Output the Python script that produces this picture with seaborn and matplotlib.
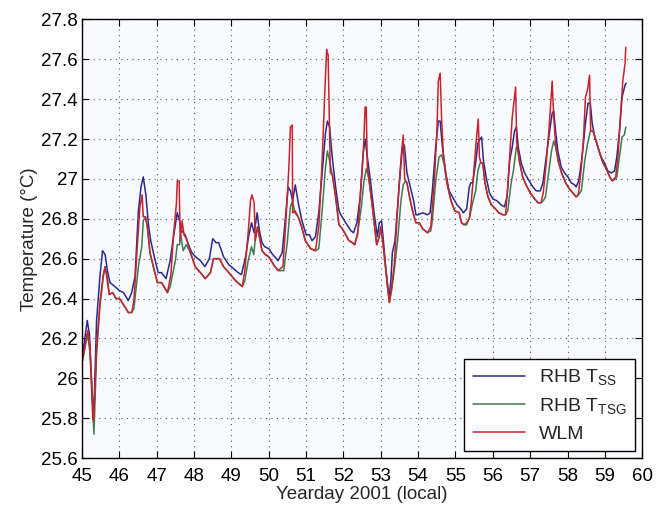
import numpy as np
import pandas as pd
import matplotlib
matplotlib.use('Agg')
import matplotlib.pyplot as plt
import seaborn as sns

# RHB T_SS (blue)
ss_day = [45.02, 45.14, 45.20, 45.31, 45.39, 45.48, 45.55, 45.62, 45.68, 45.75, 45.88, 46.00, 46.11, 46.24,
          46.33, 46.42, 46.51, 46.58, 46.64, 46.71, 46.78, 46.84, 46.96, 47.04, 47.13, 47.25, 47.36, 47.45,
          47.55, 47.61, 47.67, 47.76, 47.85, 47.94, 48.04, 48.17, 48.29, 48.41, 48.50, 48.59, 48.66, 48.79,
          48.93, 49.06, 49.18, 49.27, 49.38, 49.46, 49.54, 49.61, 49.69, 49.75, 49.82, 49.89, 50.00, 50.11,
          50.25, 50.36, 50.45, 50.52, 50.58, 50.64, 50.71, 50.80, 50.89, 51.00, 51.09, 51.16, 51.25, 51.34,
          51.43, 51.52, 51.57, 51.63, 51.70, 51.79, 51.88, 51.93, 52.06, 52.20, 52.27, 52.36, 52.45, 52.53,
          52.58, 52.64, 52.73, 52.82, 52.91, 52.96, 53.02, 53.07, 53.13, 53.20, 53.23, 53.27, 53.31, 53.38,
          53.45, 53.52, 53.58, 53.63, 53.70, 53.79, 53.88, 53.94, 54.00, 54.12, 54.25, 54.32, 54.38, 54.47,
          54.54, 54.59, 54.65, 54.74, 54.83, 54.95, 55.04, 55.14, 55.21, 55.30, 55.37, 55.41, 55.46, 55.54,
          55.60, 55.66, 55.70, 55.75, 55.82, 55.91, 56.00, 56.11, 56.22, 56.31, 56.38, 56.45, 56.52, 56.58,
          56.63, 56.68, 56.76, 56.85, 56.94, 57.07, 57.16, 57.27, 57.34, 57.43, 57.52, 57.59, 57.63, 57.68,
          57.74, 57.83, 57.92, 58.01, 58.10, 58.19, 58.23, 58.30, 58.39, 58.48, 58.55, 58.61, 58.66, 58.73,
          58.81, 58.90, 58.99, 59.08, 59.17, 59.26, 59.32, 59.39, 59.46, 59.54, 59.57]
ss_temp = [26.12, 26.29, 26.22, 25.78, 26.29, 26.51, 26.64, 26.62, 26.54, 26.48, 26.46, 26.44, 26.43, 26.39,
           26.43, 26.51, 26.84, 26.96, 27.01, 26.92, 26.77, 26.69, 26.59, 26.53, 26.53, 26.50, 26.59, 26.71,
           26.83, 26.79, 26.74, 26.72, 26.67, 26.63, 26.61, 26.59, 26.56, 26.60, 26.70, 26.68, 26.68, 26.61,
           26.57, 26.55, 26.53, 26.52, 26.61, 26.71, 26.78, 26.73, 26.83, 26.74, 26.68, 26.66, 26.65, 26.62,
           26.59, 26.63, 26.81, 26.96, 26.94, 26.89, 26.97, 26.87, 26.79, 26.72, 26.72, 26.69, 26.71, 26.83,
           27.03, 27.23, 27.29, 27.26, 27.11, 26.96, 26.84, 26.82, 26.78, 26.74, 26.73, 26.78, 26.91, 27.13,
           27.20, 27.11, 26.98, 26.83, 26.71, 26.78, 26.79, 26.69, 26.56, 26.44, 26.42, 26.49, 26.63, 26.69,
           26.86, 27.03, 27.16, 27.17, 27.03, 26.96, 26.89, 26.82, 26.82, 26.83, 26.82, 26.83, 26.94, 27.16,
           27.29, 27.29, 27.16, 27.03, 26.94, 26.90, 26.87, 26.85, 26.83, 26.85, 26.96, 26.98, 26.98, 27.08,
           27.18, 27.20, 27.21, 27.09, 27.01, 26.93, 26.90, 26.89, 26.87, 26.86, 26.91, 27.09, 27.16, 27.24,
           27.26, 27.16, 27.08, 27.03, 27.00, 26.96, 26.94, 26.94, 26.98, 27.11, 27.24, 27.33, 27.34, 27.24,
           27.14, 27.06, 27.03, 27.01, 26.98, 26.97, 26.96, 26.99, 27.11, 27.28, 27.38, 27.38, 27.28, 27.21,
           27.16, 27.11, 27.08, 27.04, 27.03, 27.04, 27.11, 27.24, 27.41, 27.47, 27.48]

# RHB T_TSG (green)
tsg_day = [45.02, 45.15, 45.22, 45.32, 45.39, 45.48, 45.57, 45.62, 45.68, 45.73, 45.82, 45.91, 46.00, 46.11,
           46.24, 46.33, 46.39, 46.51, 46.60, 46.64, 46.70, 46.75, 46.82, 46.91, 47.02, 47.13, 47.29, 47.36,
           47.50, 47.55, 47.61, 47.64, 47.71, 47.79, 47.88, 48.03, 48.17, 48.30, 48.44, 48.52, 48.68, 48.79,
           48.93, 49.11, 49.29, 49.36, 49.45, 49.54, 49.60, 49.64, 49.70, 49.75, 49.82, 49.91, 50.00, 50.13,
           50.25, 50.40, 50.49, 50.58, 50.64, 50.70, 50.79, 50.88, 50.98, 51.12, 51.25, 51.34, 51.43, 51.52,
           51.57, 51.63, 51.70, 51.79, 51.88, 51.97, 52.06, 52.15, 52.24, 52.30, 52.39, 52.48, 52.55, 52.61,
           52.66, 52.71, 52.80, 52.89, 52.96, 53.00, 53.05, 53.11, 53.18, 53.23, 53.29, 53.36, 53.45, 53.54,
           53.60, 53.66, 53.70, 53.77, 53.85, 53.94, 54.03, 54.12, 54.25, 54.34, 54.38, 54.47, 54.56, 54.63,
           54.70, 54.77, 54.88, 54.98, 55.10, 55.16, 55.23, 55.30, 55.38, 55.46, 55.54, 55.60, 55.66, 55.73,
           55.79, 55.87, 55.96, 56.07, 56.16, 56.27, 56.34, 56.40, 56.49, 56.55, 56.63, 56.68, 56.71, 56.80,
           56.89, 57.00, 57.12, 57.21, 57.29, 57.35, 57.41, 57.50, 57.57, 57.63, 57.68, 57.75, 57.84, 57.95,
           58.05, 58.14, 58.23, 58.29, 58.37, 58.46, 58.54, 58.61, 58.68, 58.77, 58.86, 58.95, 59.04, 59.13,
           59.20, 59.29, 59.32, 59.39, 59.46, 59.52, 59.56]
tsg_temp = [26.10, 26.22, 26.12, 25.72, 26.12, 26.36, 26.51, 26.56, 26.51, 26.42, 26.43, 26.40, 26.40, 26.37,
            26.33, 26.33, 26.35, 26.56, 26.66, 26.79, 26.81, 26.76, 26.63, 26.56, 26.48, 26.48, 26.43, 26.46,
            26.59, 26.67, 26.67, 26.72, 26.64, 26.67, 26.64, 26.56, 26.53, 26.50, 26.53, 26.60, 26.60, 26.56,
            26.53, 26.49, 26.46, 26.49, 26.59, 26.66, 26.62, 26.70, 26.76, 26.71, 26.64, 26.62, 26.61, 26.57,
            26.54, 26.54, 26.67, 26.86, 26.89, 26.83, 26.81, 26.76, 26.69, 26.65, 26.64, 26.65, 26.84, 27.06,
            27.14, 27.09, 27.02, 26.91, 26.77, 26.75, 26.72, 26.69, 26.68, 26.67, 26.74, 26.86, 26.99, 27.05,
            27.02, 26.96, 26.82, 26.67, 26.71, 26.76, 26.69, 26.59, 26.46, 26.38, 26.44, 26.54, 26.69, 26.89,
            26.97, 26.99, 26.98, 26.91, 26.84, 26.78, 26.78, 26.75, 26.73, 26.74, 26.79, 26.99, 27.11, 27.12,
            27.07, 26.98, 26.89, 26.84, 26.83, 26.78, 26.77, 26.77, 26.81, 26.88, 26.94, 27.04, 27.08, 27.08,
            26.98, 26.91, 26.87, 26.85, 26.83, 26.82, 26.82, 26.84, 26.98, 27.04, 27.16, 27.14, 27.09, 27.01,
            26.97, 26.93, 26.90, 26.88, 26.88, 26.89, 26.91, 27.04, 27.14, 27.19, 27.16, 27.09, 27.03, 26.98,
            26.95, 26.93, 26.91, 26.92, 26.94, 27.09, 27.18, 27.24, 27.24, 27.19, 27.13, 27.08, 27.05, 27.01,
            26.99, 27.00, 27.01, 27.11, 27.21, 27.22, 27.26]

# WLM (red)
wlm_day = [45.02, 45.13, 45.16, 45.21, 45.29, 45.31, 45.39, 45.48, 45.57, 45.62, 45.66, 45.73, 45.82, 45.91,
           46.00, 46.11, 46.24, 46.33, 46.39, 46.48, 46.55, 46.61, 46.64, 46.70, 46.75, 46.82, 46.91, 47.02,
           47.13, 47.29, 47.38, 47.45, 47.53, 47.55, 47.60, 47.63, 47.68, 47.73, 47.80, 47.89, 48.03, 48.17,
           48.30, 48.44, 48.52, 48.68, 48.79, 48.93, 49.11, 49.29, 49.36, 49.45, 49.51, 49.55, 49.61, 49.64,
           49.70, 49.75, 49.82, 49.91, 50.00, 50.13, 50.25, 50.38, 50.45, 50.54, 50.58, 50.63, 50.64, 50.70,
           50.79, 50.88, 50.98, 51.12, 51.25, 51.34, 51.43, 51.50, 51.55, 51.59, 51.65, 51.71, 51.79, 51.88,
           51.97, 52.06, 52.15, 52.24, 52.30, 52.38, 52.46, 52.54, 52.58, 52.61, 52.64, 52.71, 52.80, 52.89,
           52.96, 53.00, 53.05, 53.11, 53.18, 53.23, 53.29, 53.36, 53.43, 53.49, 53.55, 53.60, 53.64, 53.70,
           53.77, 53.85, 53.94, 54.03, 54.12, 54.25, 54.34, 54.43, 54.50, 54.54, 54.59, 54.63, 54.68, 54.77,
           54.88, 54.98, 55.10, 55.16, 55.23, 55.30, 55.37, 55.42, 55.48, 55.55, 55.61, 55.64, 55.68, 55.73,
           55.79, 55.87, 55.96, 56.07, 56.16, 56.27, 56.34, 56.40, 56.46, 56.52, 56.58, 56.61, 56.64, 56.71,
           56.80, 56.89, 57.00, 57.12, 57.21, 57.29, 57.35, 57.43, 57.50, 57.55, 57.59, 57.63, 57.68, 57.75,
           57.84, 57.95, 58.05, 58.14, 58.23, 58.29, 58.36, 58.43, 58.48, 58.54, 58.59, 58.62, 58.68, 58.77,
           58.86, 58.95, 59.04, 59.13, 59.20, 59.29, 59.35, 59.41, 59.48, 59.54, 59.56]
wlm_temp = [26.09, 26.22, 26.24, 26.16, 25.80, 25.79, 26.15, 26.38, 26.52, 26.56, 26.51, 26.42, 26.43, 26.40,
            26.40, 26.37, 26.33, 26.33, 26.39, 26.66, 26.86, 26.92, 26.81, 26.81, 26.76, 26.63, 26.56, 26.48,
            26.48, 26.43, 26.52, 26.72, 26.88, 26.99, 26.99, 26.69, 26.79, 26.72, 26.70, 26.64, 26.56, 26.53,
            26.50, 26.53, 26.60, 26.60, 26.56, 26.53, 26.49, 26.46, 26.54, 26.73, 26.89, 26.92, 26.88, 26.69,
            26.76, 26.71, 26.64, 26.62, 26.61, 26.57, 26.54, 26.56, 26.76, 27.06, 27.26, 27.27, 26.83, 26.84,
            26.81, 26.76, 26.69, 26.65, 26.64, 26.76, 27.09, 27.43, 27.65, 27.62, 27.03, 27.02, 26.91, 26.77,
            26.75, 26.72, 26.69, 26.68, 26.67, 26.72, 26.94, 27.16, 27.36, 27.36, 27.06, 26.96, 26.82, 26.67,
            26.71, 26.76, 26.69, 26.59, 26.46, 26.38, 26.46, 26.57, 26.79, 26.97, 27.12, 27.22, 27.00, 26.98,
            26.91, 26.84, 26.78, 26.78, 26.75, 26.73, 26.76, 26.98, 27.22, 27.49, 27.53, 27.29, 27.11, 26.98,
            26.89, 26.84, 26.83, 26.78, 26.77, 26.78, 26.80, 26.88, 27.01, 27.18, 27.30, 27.11, 27.08, 27.08,
            26.98, 26.91, 26.87, 26.85, 26.83, 26.82, 26.82, 26.96, 27.14, 27.31, 27.41, 27.46, 27.18, 27.09,
            27.01, 26.97, 26.93, 26.90, 26.88, 26.88, 26.93, 27.08, 27.24, 27.38, 27.49, 27.31, 27.18, 27.09,
            27.03, 26.98, 26.95, 26.93, 26.91, 26.92, 27.04, 27.21, 27.41, 27.45, 27.52, 27.24, 27.24, 27.19,
            27.13, 27.08, 27.05, 27.01, 26.99, 27.01, 27.11, 27.29, 27.49, 27.58, 27.66]

labels = ['RHB T$_{\\mathrm{SS}}$', 'RHB T$_{\\mathrm{TSG}}$', 'WLM']
colors = ['#2a2a90', '#3e7b52', '#c8222c']

df = pd.concat([
    pd.DataFrame({'day': ss_day, 'temp': ss_temp, 'series': labels[0]}),
    pd.DataFrame({'day': tsg_day, 'temp': tsg_temp, 'series': labels[1]}),
    pd.DataFrame({'day': wlm_day, 'temp': wlm_temp, 'series': labels[2]}),
])

sns.set_style('ticks')
plt.rcParams['font.family'] = ['Liberation Sans', 'DejaVu Sans']
plt.rcParams['mathtext.fontset'] = 'custom'
plt.rcParams['mathtext.rm'] = 'Liberation Sans'
plt.rcParams['mathtext.it'] = 'Liberation Sans:italic'

fig, ax = plt.subplots(figsize=(6.56, 5.09), dpi=100)
fig.subplots_adjust(left=0.125, right=0.979, bottom=0.100, top=0.962)
ax.set_facecolor('#f8fafe')

sns.lineplot(data=df, x='day', y='temp', hue='series', palette=colors,
             estimator=None, sort=False, linewidth=1.1, ax=ax)

ax.set_xlim(45, 60)
ax.set_ylim(25.6, 27.8)
ax.set_xticks(np.arange(45, 61, 1))
ax.set_yticks(np.arange(25.6, 27.81, 0.2))
ax.yaxis.set_major_formatter(matplotlib.ticker.FuncFormatter(lambda v, p: f'{round(v, 1):g}'))
ax.tick_params(direction='in', top=True, right=True, length=5, width=0.8,
               labelsize=13.5, colors='black')
ax.tick_params(axis='x', pad=7)
ax.tick_params(axis='y', pad=3)
ax.grid(True, linestyle=(0, (1, 4)), color='0.35', linewidth=0.8)
for s in ax.spines.values():
    s.set_color('black')
    s.set_linewidth(1.0)

ax.set_xlabel('Yearday 2001 (local)', fontsize=13.5, labelpad=1)
ax.set_ylabel('Temperature (\u00b0C)', fontsize=13.5, labelpad=2)

leg = ax.legend(loc='lower right', fontsize=14, frameon=True, fancybox=False,
                edgecolor='black', framealpha=1, borderaxespad=0.35,
                handlelength=2.7, handletextpad=0.7, labelspacing=0.45, borderpad=0.45)
leg.get_frame().set_linewidth(1.0)

fig.savefig('out.png', dpi=100)
